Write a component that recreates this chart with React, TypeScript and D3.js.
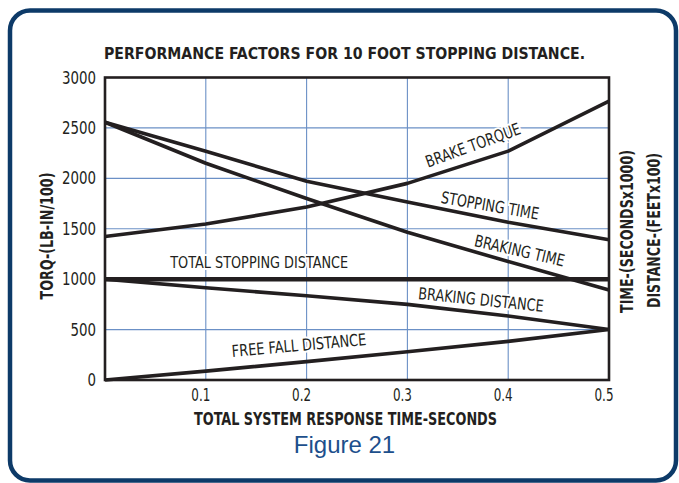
import React from "react";
import * as d3 from "d3";

const times = [0, 0.1, 0.2, 0.3, 0.4, 0.5];
const brakeTorque = [1424, 1547, 1715, 1950, 2270, 2765];
const stoppingTime = [2556, 2268, 1972, 1765, 1565, 1390];
const brakingTime = [2556, 2150, 1800, 1465, 1175, 892];
const totalStoppingDistance = [1000, 1000, 1000, 1000, 1000, 1000];
const brakingDistance = [1000, 915, 835, 750, 635, 500];
const freeFallDistance = [0, 88, 182, 280, 383, 500];

const yTicks = [0, 500, 1000, 1500, 2000, 2500, 3000];
const xTicks = [0.1, 0.2, 0.3, 0.4, 0.5];
const xTickLabels = ["0.1", "0.2", "0.3", "0.4", "0.5"];

const seriesNames = [
  "BRAKE TORQUE",
  "STOPPING TIME",
  "BRAKING TIME",
  "TOTAL STOPPING DISTANCE",
  "BRAKING DISTANCE",
  "FREE FALL DISTANCE",
];
const seriesValues = [brakeTorque, stoppingTime, brakingTime, totalStoppingDistance, brakingDistance, freeFallDistance];

// label anchor (time, value), rotation, text length
const labelT = [0.367, 0.381, 0.41, 0.153, 0.3725, 0.193];
const labelV = [2275, 1674, 1227, 1113, 740, 288];
const labelAngle = [-20, 9.8, 13, 0, 5.9, -5.1];
const labelLen = [100, 99, 92, 178, 126, 135];

const title = "PERFORMANCE FACTORS FOR 10 FOOT STOPPING DISTANCE.";
const xTitle = "TOTAL SYSTEM RESPONSE TIME-SECONDS";
const yTitle = "TORQ-(LB-IN/100)";
const rTitle1 = "TIME-(SECONDSx1000)";
const rTitle2 = "DISTANCE-(FEETx100)";
const caption = "Figure 21";

const FONT = "'Liberation Sans Narrow', 'DejaVu Sans Condensed', 'Liberation Sans', Arial, sans-serif";
const INK = "#231f20";
const GRID = "#6b90c6";
const NAVY = "#0d3a68";

export default function App() {
  const left = 105, right = 609, top = 77.5, bottom = 380;
  const x = d3.scaleLinear().domain([0, 0.5]).range([left, right]);
  const y = d3.scaleLinear().domain([0, 3000]).range([bottom, top]);
  const line = d3
    .line<number>()
    .x((_, i) => x(times[i]))
    .y((d) => y(d))
    .curve(d3.curveLinear);

  return (
    <svg
      width={679}
      height={483}
      style={{ position: "absolute", left: 0, top: 0, background: "#fff" }}
      fontFamily={FONT}
    >
      <rect x={0} y={0} width={679} height={483} fill="#fff" />
      <rect x={10} y={10.5} width={666} height={470} rx={20} ry={20} fill="#fff" stroke={NAVY} strokeWidth={4.5} />

      <text x={104} y={59} fontSize={16} fontWeight="bold" fill={INK} textLength={481} lengthAdjust="spacingAndGlyphs">
        {title}
      </text>

      {/* grid */}
      {yTicks.slice(1, -1).map((t) => (
        <line key={"gy" + t} x1={left} x2={right} y1={y(t)} y2={y(t)} stroke={GRID} strokeWidth={1.1} />
      ))}
      {xTicks.slice(0, -1).map((t) => (
        <line key={"gx" + t} x1={x(t)} x2={x(t)} y1={top} y2={bottom} stroke={GRID} strokeWidth={1.1} />
      ))}

      {/* series labels with halo */}
      {seriesNames.map((name, i) => (
        <text
          key={"lbl" + i}
          transform={`translate(${x(labelT[i])},${y(labelV[i])}) rotate(${labelAngle[i]})`}
          textAnchor="middle"
          fontSize={16.5}
          fill={INK}
          stroke="#fff"
          strokeWidth={4}
          paintOrder="stroke"
          textLength={labelLen[i]}
          lengthAdjust="spacingAndGlyphs"
        >
          {name}
        </text>
      ))}

      {/* series lines */}
      {seriesValues.map((vals, i) => (
        <path
          key={"s" + i}
          d={line(vals) || ""}
          fill="none"
          stroke={INK}
          strokeWidth={i === 3 ? 4.5 : 3.6}
          strokeLinejoin="round"
        />
      ))}

      {/* frame */}
      <rect x={left} y={top} width={right - left} height={bottom - top} fill="none" stroke={INK} strokeWidth={2.6} />

      {/* y ticks */}
      {yTicks.map((t) => {
        const s = String(t);
        return (
          <text
            key={"yt" + t}
            x={96}
            y={y(t) + 6}
            textAnchor="end"
            fontSize={17}
            fill={INK}
            textLength={s.length * 8.5}
            lengthAdjust="spacingAndGlyphs"
          >
            {s}
          </text>
        );
      })}

      {/* x ticks */}
      {xTicks.map((t, i) => (
        <text
          key={"xt" + t}
          x={x(t) - 5}
          y={401}
          textAnchor="middle"
          fontSize={17}
          fill={INK}
          textLength={19}
          lengthAdjust="spacingAndGlyphs"
        >
          {xTickLabels[i]}
        </text>
      ))}

      <text x={194} y={425} fontSize={17} fontWeight="bold" fill={INK} textLength={303} lengthAdjust="spacingAndGlyphs">
        {xTitle}
      </text>

      <text
        transform={`translate(53,236) rotate(-90)`}
        textAnchor="middle"
        fontSize={17}
        fontWeight="bold"
        fill={INK}
        textLength={127}
        lengthAdjust="spacingAndGlyphs"
      >
        {yTitle}
      </text>
      <text
        transform={`translate(633,231.5) rotate(-90)`}
        textAnchor="middle"
        fontSize={17}
        fontWeight="bold"
        fill={INK}
        textLength={163}
        lengthAdjust="spacingAndGlyphs"
      >
        {rTitle1}
      </text>
      <text
        transform={`translate(659.5,230.5) rotate(-90)`}
        textAnchor="middle"
        fontSize={17}
        fontWeight="bold"
        fill={INK}
        textLength={155}
        lengthAdjust="spacingAndGlyphs"
      >
        {rTitle2}
      </text>

      <text x={344.5} y={453} textAnchor="middle" fontSize={24} fill="#1d4f8c" fontFamily="'Liberation Sans', Arial, sans-serif">
        {caption}
      </text>
    </svg>
  );
}
